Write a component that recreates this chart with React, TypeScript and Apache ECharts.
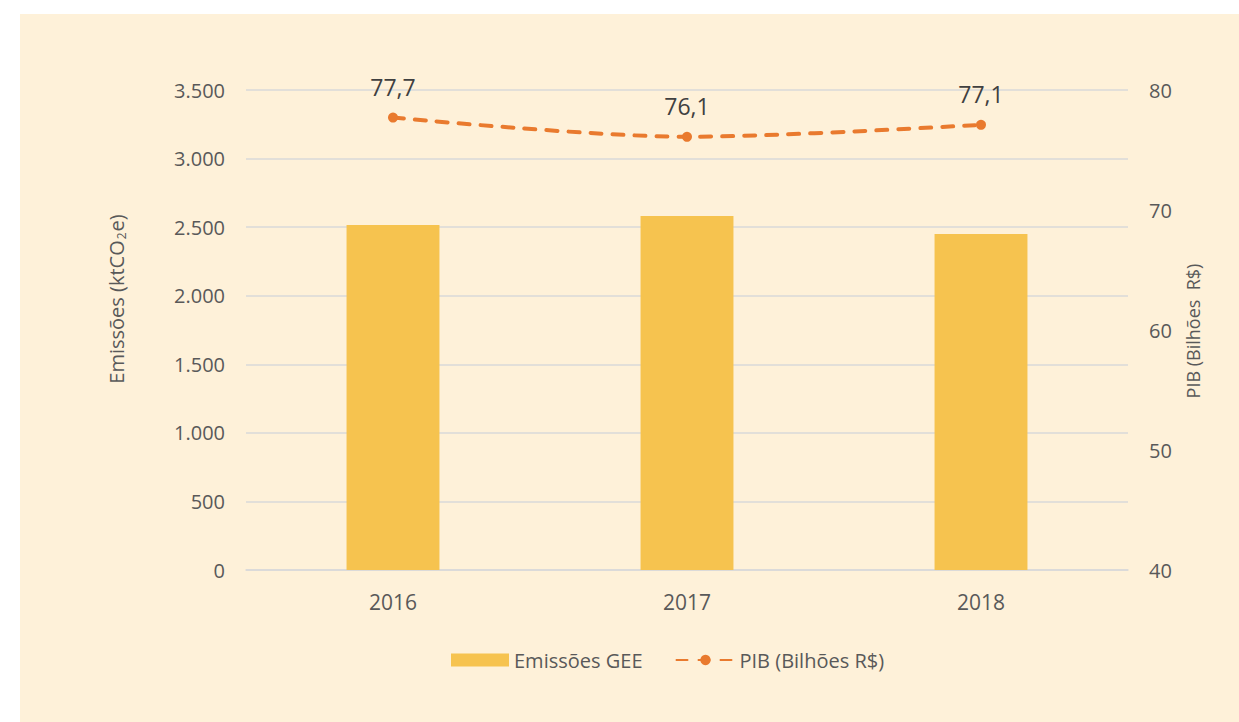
import React, { useEffect, useRef } from "react";
import * as echarts from "echarts";

const categories = ["2016", "2017", "2018"];
const emissoes = [2515, 2581, 2450];
const pib = [77.7, 76.1, 77.1];
const pibLabels = ["77,7", "76,1", "77,1"];

const FONT = "'Open Sans', sans-serif";
const TXT = "#595959";

export default function App() {
  const ref = useRef<HTMLDivElement>(null);
  useEffect(() => {
    document.body.style.margin = "0";
    const chart = echarts.init(ref.current!, null, { renderer: "svg" });
    const fmt = (v: number) => v.toLocaleString("de-DE");
    chart.setOption({
      animation: false,
      backgroundColor: "#ffffff",
      textStyle: { fontFamily: FONT },
      graphic: [
        {
          type: "rect",
          z: -10,
          shape: { x: 20, y: 14, width: 1219, height: 708 },
          style: { fill: "#FEF1D9" },
          silent: true,
        },
        {
          type: "text",
          x: 116,
          y: 299,
          rotation: Math.PI / 2,
          style: {
            text: "{a|Emissões (ktCO}{s|2}{a|e)}",
            align: "center",
            verticalAlign: "middle",
            rich: {
              a: { fontSize: 20, fill: TXT, fontFamily: FONT },
              s: { fontSize: 12, fill: TXT, fontFamily: FONT, padding: [11, 1, 0, 1] },
            },
          },
        },
        {
          type: "text",
          x: 1193,
          y: 331,
          rotation: Math.PI / 2,
          style: {
            text: "PIB (Bilhões  R$)",
            align: "center",
            verticalAlign: "middle",
            fontSize: 18,
            fill: TXT,
            fontFamily: FONT,
          },
        },
      ],
      grid: { left: 246, right: 111, top: 90, bottom: 152 },
      legend: {
        bottom: 47,
        left: 446,
        itemGap: 33,
        itemWidth: 58,
        itemHeight: 13,
        textStyle: { fontSize: 20, color: TXT, fontFamily: FONT },
        data: [
          { name: "Emissões GEE", icon: "rect" },
          { name: "PIB (Bilhões R$)" },
        ],
      },
      xAxis: {
        type: "category",
        data: categories,
        axisTick: { show: false },
        axisLine: { lineStyle: { color: "#D9D9D9", width: 1.5 } },
        axisLabel: { fontSize: 21, color: TXT, margin: 21, fontFamily: FONT },
      },
      yAxis: [
        {
          type: "value",
          min: 0,
          max: 3500,
          interval: 500,
          axisLine: { show: false },
          axisTick: { show: false },
          splitLine: { lineStyle: { color: "#D9D9D9", width: 1.5 } },
          axisLabel: { fontSize: 20, color: TXT, margin: 21, formatter: fmt, fontFamily: FONT },
        },
        {
          type: "value",
          min: 40,
          max: 80,
          interval: 10,
          position: "right",
          axisLine: { show: false },
          axisTick: { show: false },
          splitLine: { show: false },
          axisLabel: { fontSize: 20, color: TXT, margin: 21, fontFamily: FONT },
        },
      ],
      series: [
        {
          name: "Emissões GEE",
          type: "bar",
          data: emissoes,
          barWidth: "31.6%",
          itemStyle: { color: "#F6C34F" },
          yAxisIndex: 0,
        },
        {
          name: "PIB (Bilhões R$)",
          type: "line",
          yAxisIndex: 1,
          data: pib,
          smooth: 0.3,
          symbol: "circle",
          symbolSize: 10,
          itemStyle: { color: "#E97A2E" },
          lineStyle: { color: "#E97A2E", width: 4, type: [11, 11], cap: "round" },
          label: {
            show: true,
            position: "top",
            distance: 14,
            fontSize: 23,
            color: "#404040",
            fontFamily: FONT,
            formatter: (p: any) => pibLabels[p.dataIndex],
          },
        },
      ],
    });
    return () => chart.dispose();
  }, []);
  return (
    <div
      ref={ref}
      style={{ position: "absolute", left: 0, top: 0, width: 1239, height: 722 }}
    />
  );
}
